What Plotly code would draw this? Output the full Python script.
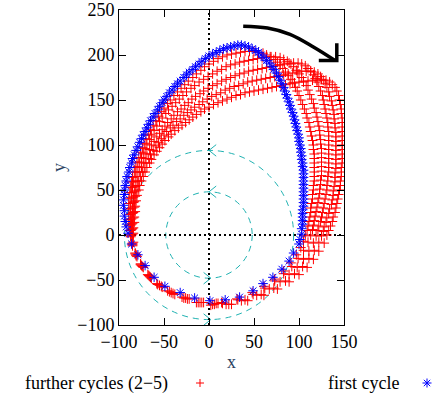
import plotly.graph_objects as go

# ---------------- data ----------------
x_ticks = [-100, -50, 0, 50, 100, 150]
y_ticks = [-100, -50, 0, 50, 100, 150, 200, 250]

first_cycle_xy = [
    (1, -73), (-16, -70), (-32, -64), (-49, -57), (-61, -47), (-71, -34), (-79, -22), (-86, -10), (-90, 2),
    (-92, 9), (-93, 15), (-94, 21), (-94, 27), (-95, 33), (-95, 39), (-94, 45), (-94, 50), (-93, 55), (-92, 60),
    (-91, 65), (-89, 70), (-88, 75), (-86, 80), (-85, 85), (-83, 89), (-81, 94), (-79, 98), (-77, 103),
    (-75, 107), (-73, 111), (-71, 115), (-69, 119), (-67, 123), (-65, 127), (-62, 131), (-60, 135), (-57, 139),
    (-55, 143), (-52, 147), (-50, 150), (-47, 154), (-44, 158), (-41, 161), (-38, 165), (-35, 168), (-32, 171),
    (-28, 175), (-25, 178), (-22, 181), (-18, 184), (-15, 187), (-11, 190), (-8, 193), (-4, 196), (0, 199),
    (4, 201), (8, 203), (12, 205), (16, 207), (20, 208), (24, 209), (28, 210), (32, 211), (36, 211), (40, 210),
    (44, 209), (48, 207), (52, 205), (55, 203), (58, 200), (61, 197), (64, 194), (67, 191), (70, 187),
    (72, 184), (75, 180), (77, 176), (79, 172), (81, 168), (83, 164), (84, 160), (86, 156), (87, 152),
    (89, 148), (90, 144), (91, 140), (93, 136), (94, 132), (95, 128), (96, 124), (97, 120), (98, 116),
    (99, 112), (100, 108), (100, 104), (101, 100), (102, 96), (102, 92), (103, 88), (103, 84), (104, 80),
    (104, 76), (105, 72), (105, 68), (105, 64), (105, 60), (105, 56), (105, 52), (105, 48), (105, 44),
    (105, 40), (105, 36), (105, 32), (104, 28), (104, 24), (104, 20), (104, 16), (104, 12), (103, 7),
    (103, 1), (101, -5), (100, -10), (94, -20), (89, -29), (81, -38), (71, -47), (60, -54), (49, -62),
    (34, -69), (18, -72),
]

further_loop1_xy = [
    (10, -76), (-6, -75), (-22, -71), (-38, -66), (-52, -58), (-64, -48), (-73, -36), (-80, -24), (-85, -12),
    (-87, -2), (-88, 5), (-89, 11), (-89, 17), (-89, 23), (-89, 29), (-89, 35), (-89, 41), (-88, 47), (-87, 53),
    (-86, 59), (-85, 64), (-83, 70), (-82, 75), (-80, 81), (-78, 86), (-76, 92), (-74, 97), (-72, 102),
    (-70, 107), (-67, 112), (-65, 117), (-62, 122), (-59, 127), (-56, 132), (-53, 137), (-50, 141), (-46, 146),
    (-43, 150), (-39, 155), (-35, 159), (-31, 163), (-27, 167), (-23, 171), (-18, 175), (-14, 179), (-9, 183),
    (-5, 187), (0, 190), (5, 193), (10, 196), (15, 198), (20, 200), (25, 201), (30, 202), (35, 203), (40, 204),
    (45, 204), (50, 204), (55, 203), (60, 202), (64, 200), (68, 198), (72, 195), (76, 192), (79, 189),
    (82, 185), (85, 181), (88, 177), (91, 173), (93, 169), (96, 164), (98, 160), (100, 155), (102, 150),
    (104, 145), (106, 140), (108, 135), (109, 130), (111, 125), (112, 120), (113, 115), (114, 110), (115, 105),
    (116, 100), (116, 95), (117, 90), (117, 85), (117, 80), (117, 75), (117, 70), (117, 65), (117, 60),
    (116, 55), (116, 50), (115, 45), (115, 40), (114, 35), (113, 30), (113, 25), (112, 20), (111, 15),
    (110, 10), (109, 5), (107, -1), (105, -7), (102, -14), (97, -22), (91, -31), (83, -40), (73, -49),
    (61, -57), (48, -64), (31, -71), (14, -75),
]

further_loop2_xy = [
    (8, -76), (-8, -75), (-24, -71), (-40, -65), (-53, -57), (-65, -47), (-74, -35), (-81, -23), (-85, -11),
    (-87, -1), (-87, 5), (-87, 11), (-87, 17), (-87, 23), (-87, 29), (-87, 35), (-86, 41), (-86, 47), (-85, 53),
    (-84, 59), (-82, 65), (-81, 70), (-79, 76), (-77, 81), (-75, 86), (-73, 91), (-71, 96), (-69, 101),
    (-66, 106), (-64, 111), (-61, 116), (-58, 121), (-55, 126), (-52, 130), (-48, 135), (-45, 139), (-41, 143),
    (-37, 147), (-33, 151), (-29, 155), (-25, 159), (-20, 163), (-16, 166), (-11, 170), (-6, 173), (-1, 176),
    (4, 179), (9, 182), (14, 184), (19, 187), (24, 189), (29, 190), (34, 192), (39, 193), (44, 194), (49, 195),
    (54, 196), (59, 197), (64, 198), (69, 198), (74, 198), (79, 197), (83, 195), (87, 193), (91, 190),
    (94, 187), (97, 183), (100, 179), (103, 175), (105, 171), (108, 166), (110, 161), (112, 156), (114, 151),
    (116, 146), (117, 141), (119, 136), (120, 131), (121, 126), (122, 121), (123, 116), (123, 111), (124, 106),
    (124, 101), (125, 96), (125, 91), (125, 86), (125, 81), (125, 76), (125, 71), (125, 66), (124, 61),
    (124, 56), (123, 51), (123, 46), (122, 41), (121, 36), (120, 31), (119, 26), (118, 21), (117, 16),
    (116, 11), (115, 6), (113, 0), (110, -8), (105, -17), (99, -26), (92, -35), (83, -43), (73, -51),
    (62, -59), (49, -66), (32, -72), (15, -76),
]

further_loop3_xy = [
    (6, -77), (-10, -75), (-26, -70), (-42, -64), (-55, -56), (-66, -46), (-75, -34), (-81, -22), (-85, -10),
    (-86, 0), (-86, 6), (-86, 12), (-86, 18), (-85, 24), (-85, 30), (-84, 36), (-84, 42), (-83, 48), (-82, 54),
    (-80, 60), (-79, 65), (-77, 70), (-75, 75), (-73, 80), (-71, 85), (-69, 90), (-66, 95), (-64, 100),
    (-61, 104), (-58, 109), (-55, 113), (-52, 117), (-49, 121), (-46, 125), (-42, 129), (-39, 133), (-35, 137),
    (-31, 140), (-27, 144), (-23, 147), (-19, 151), (-15, 154), (-10, 157), (-6, 160), (-1, 163), (4, 166),
    (9, 168), (14, 171), (19, 173), (24, 175), (29, 177), (34, 179), (39, 180), (44, 182), (49, 183), (54, 184),
    (59, 185), (64, 186), (69, 187), (74, 188), (79, 189), (84, 190), (89, 191), (94, 191), (99, 191),
    (103, 190), (107, 188), (110, 185), (113, 182), (116, 178), (118, 174), (120, 170), (122, 165), (124, 160),
    (126, 155), (127, 150), (128, 145), (129, 140), (130, 135), (131, 130), (132, 125), (132, 120), (133, 115),
    (133, 110), (133, 105), (133, 100), (133, 95), (133, 90), (133, 85), (133, 80), (133, 75), (133, 70),
    (132, 65), (132, 60), (131, 55), (131, 50), (130, 45), (129, 40), (128, 35), (127, 30), (126, 25),
    (125, 20), (124, 15), (122, 10), (121, 5), (119, -1), (116, -9), (111, -18), (105, -27), (98, -36),
    (89, -44), (79, -52), (67, -60), (53, -67), (36, -73), (19, -77),
]

further_loop4_xy = [
    (4, -77), (-12, -75), (-28, -70), (-44, -63), (-57, -55), (-67, -45), (-76, -33), (-82, -21), (-85, -9),
    (-85, 1), (-85, 7), (-85, 13), (-84, 19), (-84, 25), (-83, 31), (-83, 37), (-82, 43), (-81, 49), (-79, 55),
    (-78, 60), (-76, 65), (-74, 70), (-72, 75), (-70, 80), (-67, 85), (-65, 90), (-62, 94), (-59, 99),
    (-56, 103), (-53, 107), (-50, 111), (-47, 115), (-43, 119), (-40, 122), (-36, 126), (-32, 129), (-28, 133),
    (-24, 136), (-20, 139), (-16, 142), (-11, 145), (-7, 148), (-2, 151), (3, 154), (8, 156), (13, 158),
    (18, 161), (23, 163), (28, 165), (33, 166), (38, 168), (43, 170), (48, 171), (53, 172), (58, 173), (63, 174),
    (68, 175), (73, 176), (78, 177), (83, 178), (88, 179), (93, 180), (98, 181), (103, 182), (108, 182),
    (113, 182), (117, 181), (121, 179), (124, 176), (127, 172), (129, 168), (131, 164), (133, 159), (134, 154),
    (136, 149), (137, 144), (138, 139), (139, 134), (139, 129), (140, 124), (140, 119), (141, 114), (141, 109),
    (141, 104), (141, 99), (141, 94), (141, 89), (141, 84), (141, 79), (141, 74), (140, 69), (140, 64),
    (140, 59), (139, 54), (138, 49), (138, 44), (137, 39), (136, 34), (134, 29), (133, 24), (131, 19),
    (130, 14), (128, 9), (127, 4), (125, -1), (122, -8), (117, -17), (111, -26), (104, -35), (95, -43),
    (85, -51), (72, -59), (58, -66), (40, -72), (22, -77),
]

further_loop5_xy = [
    (2, -78), (-14, -75), (-30, -69), (-46, -62), (-58, -54), (-68, -44), (-76, -32), (-82, -20), (-84, -8),
    (-84, 2), (-84, 8), (-83, 14), (-83, 20), (-82, 26), (-82, 32), (-81, 38), (-80, 44), (-78, 50), (-77, 55),
    (-75, 60), (-73, 65), (-71, 70), (-69, 75), (-66, 80), (-64, 84), (-61, 89), (-58, 93), (-55, 97),
    (-52, 101), (-49, 105), (-45, 109), (-42, 112), (-38, 116), (-34, 119), (-30, 122), (-26, 125), (-22, 128),
    (-18, 131), (-14, 134), (-9, 137), (-5, 140), (0, 142), (5, 145), (10, 147), (15, 149), (20, 151),
    (25, 153), (30, 155), (35, 156), (40, 158), (45, 159), (50, 160), (55, 161), (60, 162), (65, 163),
    (70, 164), (75, 165), (80, 166), (85, 167), (90, 168), (95, 169), (100, 170), (105, 170), (110, 171),
    (115, 172), (120, 172), (125, 173), (130, 172), (134, 170), (137, 167), (140, 164), (142, 160), (144, 155),
    (145, 150), (146, 145), (147, 140), (147, 135), (148, 130), (148, 125), (148, 120), (148, 115), (148, 110),
    (148, 105), (148, 100), (148, 95), (148, 90), (148, 85), (148, 80), (147, 75), (147, 70), (147, 65),
    (146, 60), (146, 55), (145, 50), (144, 45), (143, 40), (142, 35), (141, 30), (140, 25), (138, 20),
    (137, 15), (135, 10), (133, 5), (131, 0), (128, -9), (122, -18), (116, -27), (109, -36), (100, -44),
    (89, -52), (76, -60), (61, -67), (43, -73), (25, -77),
]

circle_radii = [48, 94]
rotation_arrow_xy = [(38, 232), (65, 230), (90, 223), (116, 209), (140, 194)]
rotation_arrowhead_xy = [(142, 213), (142, 194), (122, 194)]

legend_labels = ["further cycles (2\u22125)", "first cycle"]

# ---------------- styling ----------------
FONT = "Liberation Serif"
RED = "#ff0000"
BLUE = "#0000ff"
CYAN = "#20b2b2"
RED_SIZE = 7
BLUE_SIZE = 8

further_loops = [further_loop1_xy, further_loop2_xy, further_loop3_xy, further_loop4_xy, further_loop5_xy]
red_x = [p[0] for loop in further_loops for p in loop]
red_y = [p[1] for loop in further_loops for p in loop]
blue_x = [p[0] for p in first_cycle_xy]
blue_y = [p[1] for p in first_cycle_xy]

X0, X1, Y0, Y1 = -100, 150, -100, 250
L, R, T, B = 119, 92, 10, 73
W, H = 436, 398
pw, ph = W - L - R, H - T - B

def paper(px, py):
    return ((px - L) / pw, (H - B - py) / ph)

fig = go.Figure()

# small chevrons on the dashed circles (top: pointing left, bottom: pointing right)
chev = 8
for r in circle_radii:
    fig.add_trace(go.Scatter(x=[chev, 0, chev], y=[r + chev * 0.8, r, r - chev * 0.8], mode="lines",
                             line=dict(color=CYAN, width=1), hoverinfo="skip", showlegend=False))
    fig.add_trace(go.Scatter(x=[-chev + 2, 2, -chev + 2], y=[-r + chev * 0.8, -r, -r - chev * 0.8], mode="lines",
                             line=dict(color=CYAN, width=1), hoverinfo="skip", showlegend=False))

fig.add_trace(go.Scatter(x=red_x, y=red_y, mode="markers", name=legend_labels[0], showlegend=False,
                         marker=dict(symbol="cross-thin", size=RED_SIZE, color=RED, line=dict(width=1, color=RED))))
fig.add_trace(go.Scatter(x=blue_x, y=blue_y, mode="markers", name=legend_labels[1], showlegend=False,
                         marker=dict(symbol="asterisk-open", size=BLUE_SIZE, color=BLUE,
                                     line=dict(width=1, color=BLUE))))

# curved rotation arrow
fig.add_trace(go.Scatter(x=[p[0] for p in rotation_arrow_xy], y=[p[1] for p in rotation_arrow_xy],
                         mode="lines", line=dict(color="black", width=3.5, shape="spline"),
                         hoverinfo="skip", showlegend=False))
fig.add_trace(go.Scatter(x=[p[0] for p in rotation_arrowhead_xy], y=[p[1] for p in rotation_arrowhead_xy],
                         mode="lines", line=dict(color="black", width=3.5),
                         hoverinfo="skip", showlegend=False))

shapes = []
for r in circle_radii:
    shapes.append(dict(type="circle", xref="x", yref="y", x0=-r, y0=-r, x1=r, y1=r,
                       line=dict(color=CYAN, width=1, dash="6px,5px"), layer="below"))
shapes.append(dict(type="line", xref="x", yref="y", x0=X0, x1=X1, y0=0, y1=0,
                   line=dict(color="black", width=2, dash="2px,3px"), layer="below"))
shapes.append(dict(type="line", xref="x", yref="y", x0=0, x1=0, y0=Y0, y1=Y1,
                   line=dict(color="black", width=2, dash="2px,3px"), layer="below"))

# legend samples (gnuplot style: text, then sample)
def seg(x0, y0, x1, y1, color):
    a, b = paper(x0, y0)
    c, d = paper(x1, y1)
    return dict(type="line", xref="paper", yref="paper", x0=a, y0=b, x1=c, y1=d,
                line=dict(color=color, width=1))

cx, cy, h = 200, 383, 4.0
shapes += [seg(cx - h, cy, cx + h, cy, RED), seg(cx, cy - h, cx, cy + h, RED)]
cx, cy, h, d = 427, 383, 4.5, 3.2
shapes += [seg(cx - h, cy, cx + h, cy, BLUE), seg(cx, cy - h, cx, cy + h, BLUE),
           seg(cx - d, cy - d, cx + d, cy + d, BLUE), seg(cx - d, cy + d, cx + d, cy - d, BLUE)]

lx0, ly = paper(23, 383)
lx1, _ = paper(326, 383)
annotations = [
    dict(text=legend_labels[0], xref="paper", yref="paper", x=lx0, y=ly,
         xanchor="left", yanchor="middle", showarrow=False, font=dict(family=FONT, size=18, color="black")),
    dict(text=legend_labels[1], xref="paper", yref="paper", x=lx1, y=ly,
         xanchor="left", yanchor="middle", showarrow=False, font=dict(family=FONT, size=18, color="black")),
]

axis_common = dict(showgrid=False, zeroline=False, showline=True, linecolor="black", linewidth=1,
                   mirror="ticks", ticks="inside", ticklen=7, tickcolor="black", tickwidth=1,
                   automargin=False, tickfont=dict(family=FONT, size=18, color="black"))

fig.update_layout(
    width=W, height=H, margin=dict(l=L, r=R, t=T, b=B),
    paper_bgcolor="white", plot_bgcolor="white",
    xaxis=dict(range=[X0, X1], tickvals=x_ticks, title=dict(text="x", font=dict(family=FONT, size=18), standoff=4),
               **axis_common),
    yaxis=dict(range=[Y0, Y1], tickvals=y_ticks, title=dict(text="y", font=dict(family=FONT, size=18), standoff=6),
               **axis_common),
    shapes=shapes, annotations=annotations, showlegend=False,
)

fig.write_html("out.html", config={"displayModeBar": False},
               post_script="document.body.style.margin='0px';")
